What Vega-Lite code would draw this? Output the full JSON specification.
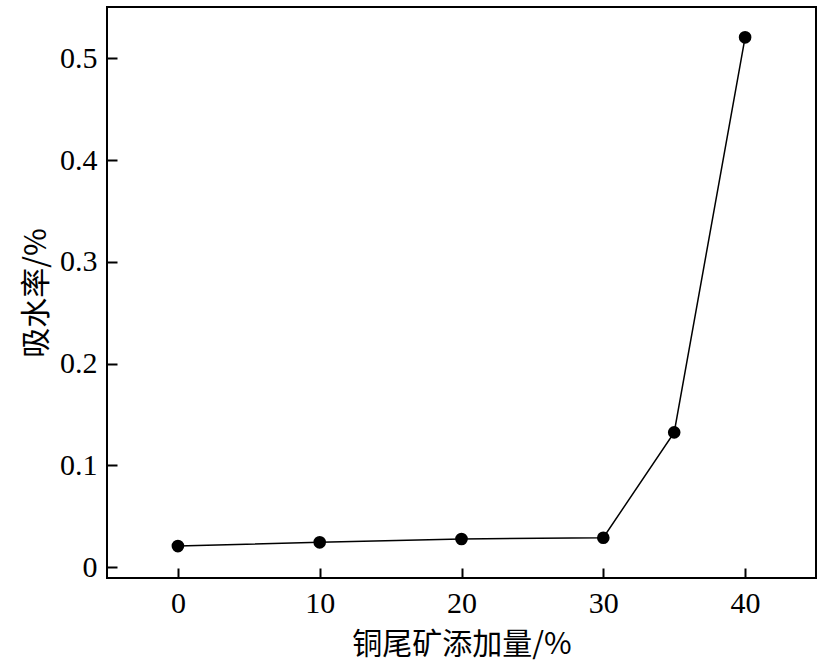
{
  "$schema": "https://vega.github.io/schema/vega-lite/v6.json",
  "width": 709,
  "height": 571,
  "autosize": {"type": "none"},
  "padding": {"left": 107, "top": 7, "right": 11, "bottom": 85},
  "background": "white",
  "config": {
    "view": {"stroke": "black", "strokeWidth": 2},
    "axis": {
      "grid": false,
      "domain": false,
      "ticks": true,
      "tickColor": "black",
      "tickWidth": 2,
      "tickSize": -10,
      "labelFont": "Liberation Serif",
      "labelFontSize": 30,
      "labelColor": "black",
      "titleFont": "Noto Sans CJK SC",
      "titleFontSize": 30,
      "titleFontWeight": "normal",
      "titleColor": "black"
    }
  },
  "data": {
    "values": [
      {"x": 0, "y": 0.0206},
      {"x": 10, "y": 0.0243},
      {"x": 20, "y": 0.0275},
      {"x": 30, "y": 0.0288},
      {"x": 35, "y": 0.1324},
      {"x": 40, "y": 0.5208}
    ]
  },
  "encoding": {
    "x": {
      "field": "x", "type": "quantitative",
      "scale": {"domain": [-5, 45], "nice": false, "zero": false},
      "axis": {"values": [0, 10, 20, 30, 40], "title": "铜尾矿添加量/%", "labelPadding": 20, "titlePadding": 11}
    },
    "y": {
      "field": "y", "type": "quantitative",
      "scale": {"domain": [-0.0108, 0.5506], "nice": false, "zero": false},
      "axis": {"values": [0, 0.1, 0.2, 0.3, 0.4, 0.5], "title": "吸水率/%", "labelPadding": 20, "titlePadding": 8,
        "labelExpr": "datum.value == 0 ? '0' : format(datum.value, '.1f')"}
    }
  },
  "layer": [
    {"mark": {"type": "line", "color": "black", "strokeWidth": 1.5}},
    {"mark": {"type": "point", "filled": true, "color": "black", "opacity": 1, "size": 160}}
  ]
}
